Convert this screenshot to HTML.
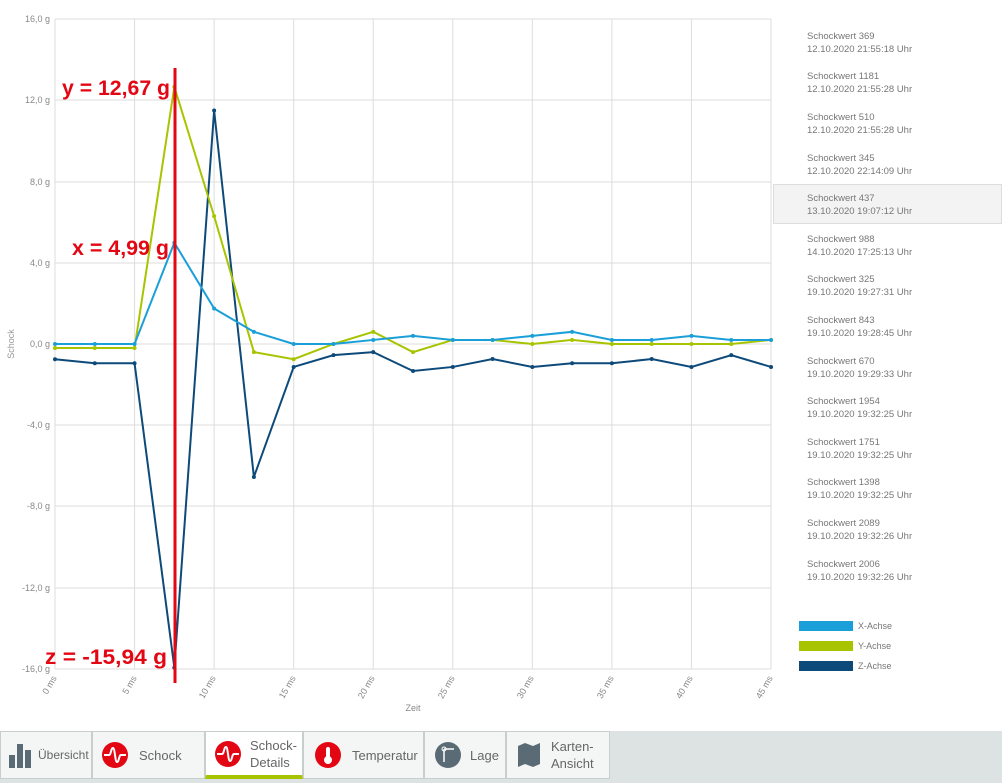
<!DOCTYPE html>
<html><head><meta charset="utf-8"><style>
body{margin:0;width:1002px;height:783px;background:#fff;font-family:"Liberation Sans",sans-serif;position:relative;overflow:hidden}
.it{position:absolute;left:807px;font-size:9.5px;color:#777;line-height:13px}
.sel{position:absolute;left:773px;top:184px;width:229px;height:40px;background:#f3f3f3;border:1px solid #ddd;box-sizing:border-box}
.lg{position:absolute;left:799px;width:54px;height:10px}
.lt{position:absolute;left:858px;font-size:9px;color:#777}
.bar{position:absolute;left:0;top:731px;width:1002px;height:52px;background:#dde2e2}
.tab{position:absolute;top:731px;height:48px;background:#f4f6f6;border:1px solid #c8cdcd;box-sizing:border-box;display:flex;align-items:center;font-size:13px;color:#666;white-space:nowrap;overflow:hidden}
.tab svg{flex-shrink:0}
</style></head><body>
<svg width="1002" height="731" style="position:absolute;left:0;top:0" font-family="Liberation Sans, sans-serif">
<g stroke="#ddd" stroke-width="1">
<line x1="55" y1="19" x2="771" y2="19"/><line x1="55" y1="100" x2="771" y2="100"/><line x1="55" y1="182" x2="771" y2="182"/><line x1="55" y1="263" x2="771" y2="263"/><line x1="55" y1="344" x2="771" y2="344"/><line x1="55" y1="425" x2="771" y2="425"/><line x1="55" y1="506" x2="771" y2="506"/><line x1="55" y1="588" x2="771" y2="588"/><line x1="55" y1="669" x2="771" y2="669"/>
<line x1="55" y1="19" x2="55" y2="669"/><line x1="134.6" y1="19" x2="134.6" y2="669"/><line x1="214.1" y1="19" x2="214.1" y2="669"/><line x1="293.7" y1="19" x2="293.7" y2="669"/><line x1="373.2" y1="19" x2="373.2" y2="669"/><line x1="452.8" y1="19" x2="452.8" y2="669"/><line x1="532.3" y1="19" x2="532.3" y2="669"/><line x1="611.9" y1="19" x2="611.9" y2="669"/><line x1="691.4" y1="19" x2="691.4" y2="669"/><line x1="771" y1="19" x2="771" y2="669"/>
</g>
<g font-size="9" fill="#888" text-anchor="end">
<text x="50" y="22">16,0 g</text><text x="50" y="103">12,0 g</text><text x="50" y="185">8,0 g</text><text x="50" y="266">4,0 g</text><text x="50" y="347">0,0 g</text><text x="50" y="428">-4,0 g</text><text x="50" y="509">-8,0 g</text><text x="50" y="591">-12,0 g</text><text x="50" y="672">-16,0 g</text>
</g>
<text x="14" y="344" font-size="9" fill="#999" transform="rotate(-90 14 344)" text-anchor="middle">Schock</text>
<g font-size="9" fill="#888" text-anchor="end">
<text transform="translate(57,678) rotate(-60)">0 ms</text><text transform="translate(137,678) rotate(-60)">5 ms</text><text transform="translate(216,678) rotate(-60)">10 ms</text><text transform="translate(296,678) rotate(-60)">15 ms</text><text transform="translate(375,678) rotate(-60)">20 ms</text><text transform="translate(455,678) rotate(-60)">25 ms</text><text transform="translate(534,678) rotate(-60)">30 ms</text><text transform="translate(614,678) rotate(-60)">35 ms</text><text transform="translate(693,678) rotate(-60)">40 ms</text><text transform="translate(773,678) rotate(-60)">45 ms</text>
</g>
<text x="413" y="711" font-size="9" fill="#888" text-anchor="middle">Zeit</text>
<g id="s"></g>
<line x1="175" y1="68" x2="175" y2="683" stroke="#e30613" stroke-width="3"/>
<g font-size="21" font-weight="bold" fill="#e30613">
<text x="62" y="95" textLength="108" lengthAdjust="spacingAndGlyphs">y = 12,67 g</text>
<text x="72" y="255" textLength="97" lengthAdjust="spacingAndGlyphs">x = 4,99 g</text>
<text x="45" y="664" textLength="122" lengthAdjust="spacingAndGlyphs">z = -15,94 g</text>
</g>
</svg>
<div class="sel"></div>
<div class="it" style="top:30px">Schockwert 369<br>12.10.2020 21:55:18 Uhr</div>
<div class="it" style="top:70px">Schockwert 1181<br>12.10.2020 21:55:28 Uhr</div>
<div class="it" style="top:111px">Schockwert 510<br>12.10.2020 21:55:28 Uhr</div>
<div class="it" style="top:152px">Schockwert 345<br>12.10.2020 22:14:09 Uhr</div>
<div class="it" style="top:192px">Schockwert 437<br>13.10.2020 19:07:12 Uhr</div>
<div class="it" style="top:233px">Schockwert 988<br>14.10.2020 17:25:13 Uhr</div>
<div class="it" style="top:273px">Schockwert 325<br>19.10.2020 19:27:31 Uhr</div>
<div class="it" style="top:314px">Schockwert 843<br>19.10.2020 19:28:45 Uhr</div>
<div class="it" style="top:355px">Schockwert 670<br>19.10.2020 19:29:33 Uhr</div>
<div class="it" style="top:395px">Schockwert 1954<br>19.10.2020 19:32:25 Uhr</div>
<div class="it" style="top:436px">Schockwert 1751<br>19.10.2020 19:32:25 Uhr</div>
<div class="it" style="top:476px">Schockwert 1398<br>19.10.2020 19:32:25 Uhr</div>
<div class="it" style="top:517px">Schockwert 2089<br>19.10.2020 19:32:26 Uhr</div>
<div class="it" style="top:558px">Schockwert 2006<br>19.10.2020 19:32:26 Uhr</div>
<div class="lg" style="top:621px;background:#1a9fd8"></div><div class="lt" style="top:621px">X-Achse</div>
<div class="lg" style="top:641px;background:#a8c400"></div><div class="lt" style="top:641px">Y-Achse</div>
<div class="lg" style="top:661px;background:#0d4a7a"></div><div class="lt" style="top:661px">Z-Achse</div>
<div class="bar"></div>
<div class="tab" style="left:0;width:92px;font-size:12px"><svg width="22" height="26" style="margin:0 7px 0 8px"><rect x="0" y="13" width="6" height="13" fill="#5a6b75"/><rect x="8" y="2" width="6" height="24" fill="#5a6b75"/><rect x="16" y="8" width="6" height="18" fill="#5a6b75"/></svg>Übersicht</div>
<div class="tab" style="left:92px;width:113px"><svg width="28" height="28" style="margin:0 10px 0 8px"><circle cx="14" cy="14" r="13" fill="#e30613"/><path d="M3 14h5c2 0 2-7 4-7s2 14 4 14 2-7 4-7h5" stroke="#fff" stroke-width="2" fill="none"/></svg>Schock</div>
<div class="tab" style="left:205px;width:98px;background:#fff;border-bottom:4px solid #a8c400"><svg width="28" height="28" style="margin:0 8px 0 8px"><circle cx="14" cy="14" r="13" fill="#e30613"/><path d="M3 14h5c2 0 2-7 4-7s2 14 4 14 2-7 4-7h5" stroke="#fff" stroke-width="2" fill="none"/></svg><span style="line-height:17px">Schock-<br>Details</span></div>
<div class="tab" style="left:303px;width:121px"><svg width="28" height="28" style="margin:0 10px 0 10px"><circle cx="14" cy="14" r="13" fill="#e30613"/><rect x="12" y="6" width="4" height="12" rx="2" fill="#fff"/><circle cx="14" cy="19" r="4" fill="#fff"/></svg>Temperatur</div>
<div class="tab" style="left:424px;width:82px"><svg width="28" height="28" style="margin:0 8px 0 9px"><circle cx="14" cy="14" r="13" fill="#5a6b75"/><path d="M10 8v13M10 8h10" stroke="#fff" stroke-width="1.5"/><circle cx="10" cy="8" r="2" fill="none" stroke="#fff"/></svg>Lage</div>
<div class="tab" style="left:506px;width:104px"><svg width="24" height="26" style="margin:0 10px 0 10px"><path d="M1 4l7-3 8 3 7-3v21l-7 3-8-3-7 3z" fill="#5a6b75"/></svg><span style="line-height:17px">Karten-<br>Ansicht</span></div>
<script>
const X=[0,0,0,4.99,1.75,0.6,0,0,0.2,0.4,0.2,0.2,0.4,0.6,0.2,0.2,0.4,0.2,0.2];
const Y=[-0.2,-0.2,-0.2,12.67,6.3,-0.4,-0.75,0,0.6,-0.4,0.2,0.2,0,0.2,0,0,0,0,0.2];
const Z=[-0.75,-0.95,-0.95,-15.94,11.5,-6.55,-1.13,-0.55,-0.4,-1.33,-1.13,-0.74,-1.13,-0.95,-0.95,-0.74,-1.13,-0.55,-1.13];
let g=document.getElementById('s'),h='';
for(const [d,c] of [[Z,'#0d4a7a'],[Y,'#a8c400'],[X,'#1a9fd8']]){
 let p=d.map((v,i)=>[55+i*39.78,344-v*20.3]);
 h+=`<polyline fill="none" stroke="${c}" stroke-width="2" points="${p.map(q=>q.join(',')).join(' ')}"/>`;
 p.forEach(q=>h+=`<circle cx="${q[0]}" cy="${q[1]}" r="2" fill="${c}"/>`);
}
g.innerHTML=h;
</script>
</body></html>
